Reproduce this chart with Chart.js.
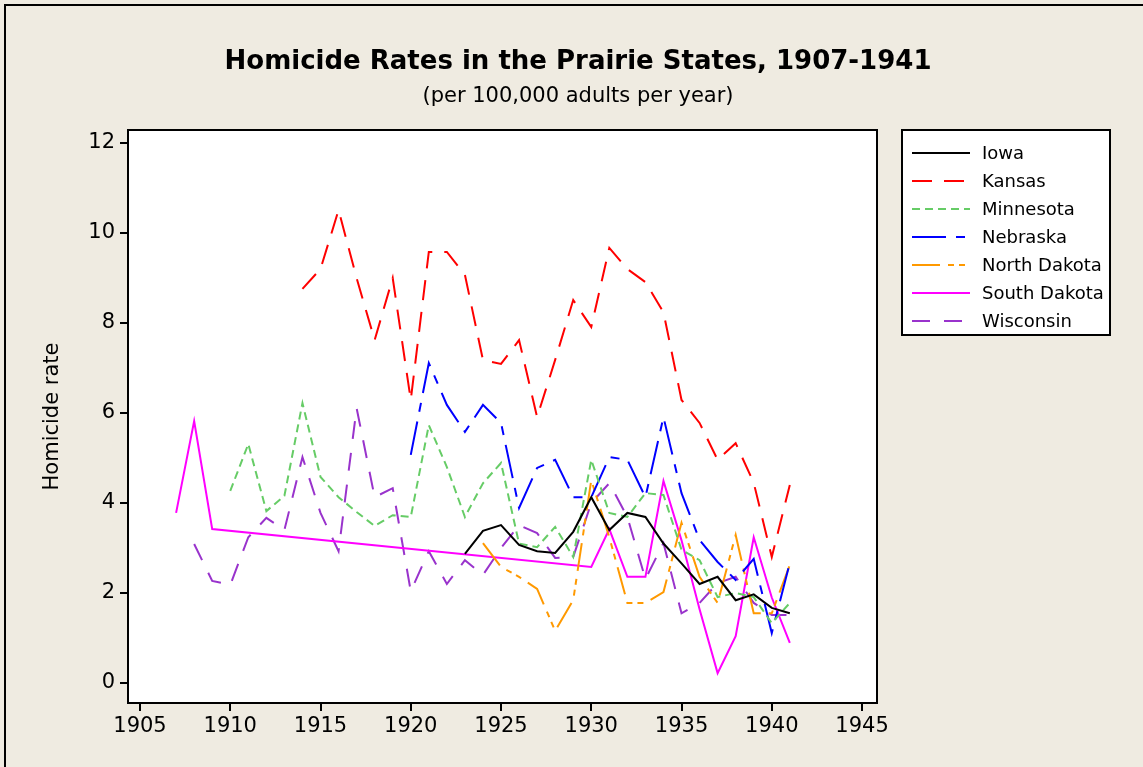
<!DOCTYPE html>
<html>
<head>
<meta charset="utf-8">
<script src="https://cdn.jsdelivr.net/npm/chart.js@4.4.1/dist/chart.umd.min.js"></script>
<style>
html,body{margin:0;padding:0;background:#EFEBE1;}
#wrap{width:1143px;height:767px;position:relative;}
</style>
</head>
<body>
<div id="wrap"><canvas id="c" width="1143" height="767"></canvas></div>
<script>
const years = [1907,1908,1909,1910,1911,1912,1913,1914,1915,1916,1917,1918,1919,1920,1921,1922,1923,1924,1925,1926,1927,1928,1929,1930,1931,1932,1933,1934,1935,1936,1937,1938,1939,1940,1941];

const iowa = [null,null,null,null,null,null,null,null,null,null,null,null,null,null,null,null,
  2.87,3.38,3.51,3.07,2.93,2.89,3.36,4.13,3.40,3.78,3.69,3.10,2.66,2.20,2.36,1.84,1.97,1.67,1.55];
const kansas = [null,null,null,null,null,null,null,8.76,9.20,10.51,9.00,7.62,9.00,6.29,9.58,9.58,
  9.07,7.18,7.09,7.62,5.91,7.18,8.51,7.91,9.67,9.20,8.91,8.24,6.29,5.78,4.96,5.33,4.45,2.80,4.40];
const minnesota = [null,null,null,4.27,5.31,3.82,4.16,6.22,4.58,4.13,3.80,3.49,3.73,3.69,5.73,4.80,
  3.69,4.44,4.89,3.10,3.02,3.47,2.80,4.96,3.78,3.69,4.22,4.18,2.96,2.73,1.91,2.00,1.91,1.33,1.78];
const nebraska = [null,null,null,null,null,null,null,null,null,null,null,null,null,5.07,7.11,6.18,
  5.58,6.18,5.78,3.89,4.78,4.96,4.13,4.13,5.02,4.96,4.13,5.91,4.22,3.18,2.69,2.29,2.76,1.11,2.67];
const northDakota = [null,null,null,null,null,null,null,null,null,null,null,null,null,null,null,null,
  null,3.11,2.58,2.36,2.09,1.16,1.84,4.51,3.24,1.78,1.78,2.02,3.56,2.36,1.78,3.29,1.55,1.55,2.62];
const southDakota = [3.78,5.82,3.42,null,null,null,null,null,null,null,null,null,null,null,null,null,
  null,null,null,null,null,null,null,2.58,3.42,2.36,2.36,4.49,3.17,1.64,0.22,1.04,3.24,1.90,0.89];
const wisconsin = [null,3.09,2.27,2.18,3.24,3.67,3.40,5.02,3.78,2.93,6.11,4.13,4.33,2.04,2.93,2.20,
  2.73,2.40,3.00,3.51,3.33,2.78,2.80,4.00,4.44,3.69,2.31,3.11,1.55,1.78,2.22,2.36,1.78,1.51,1.51];

const seriesNames = ["Iowa","Kansas","Minnesota","Nebraska","North Dakota","South Dakota","Wisconsin"];
const xTicks = [1905,1910,1915,1920,1925,1930,1935,1940,1945];
const yTicks = [0,2,4,6,8,10,12];
const titleText = "Homicide Rates in the Prairie States, 1907-1941";
const subtitleText = "(per 100,000 adults per year)";
const yAxisTitle = "Homicide rate";

const seriesValues = [iowa,kansas,minnesota,nebraska,northDakota,southDakota,wisconsin];
const styles = [
  {color:"#000000", dash:[]},
  {color:"#FF0000", dash:[20,12]},
  {color:"#66CC66", dash:[8,5]},
  {color:"#0000FF", dash:[34,10,9,10]},
  {color:"#FF9900", dash:[28,8,6,5,6,8]},
  {color:"#FF00FF", dash:[]},
  {color:"#9933CC", dash:[18,14]}
];

const datasets = seriesNames.map((name,i)=>({
  label:name,
  data: years.map((yr,j)=>({x:yr, y:seriesValues[i][j]})),
  borderColor: styles[i].color,
  backgroundColor: styles[i].color,
  borderDash: styles[i].dash,
  borderWidth: 2,
  pointRadius: 0,
  tension: 0,
  spanGaps: true,
  fill: false
}));

const FONT = "'DejaVu Sans', Tahoma, sans-serif";

const decor = {
  id:'decor',
  beforeDraw(chart){
    const ctx = chart.ctx, a = chart.chartArea;
    ctx.save();
    ctx.fillStyle = "#EFEBE1";
    ctx.fillRect(0,0,chart.width,chart.height);
    ctx.fillStyle = "#000";
    ctx.fillRect(4,4,chart.width-4,2);
    ctx.fillRect(4,4,2,chart.height-4);
    ctx.fillStyle = "#FFFFFF";
    ctx.fillRect(a.left,a.top,a.right-a.left,a.bottom-a.top);
    ctx.restore();
  },
  afterDraw(chart){
    const ctx = chart.ctx, a = chart.chartArea;
    ctx.save();
    ctx.strokeStyle = "#000";
    ctx.lineWidth = 2;
    ctx.strokeRect(a.left,a.top,a.right-a.left,a.bottom-a.top);
    // title
    ctx.fillStyle = "#000";
    ctx.textAlign = "center";
    ctx.textBaseline = "middle";
    ctx.font = "bold 26px " + FONT;
    ctx.fillText(titleText, 578, 62);
    ctx.font = "21px " + FONT;
    ctx.fillText(subtitleText, 578, 97);
    // legend
    const lx = 902, ly = 130, lw = 208, lh = 205;
    ctx.fillStyle = "#FFFFFF";
    ctx.fillRect(lx,ly,lw,lh);
    ctx.strokeStyle = "#000";
    ctx.lineWidth = 2;
    ctx.strokeRect(lx,ly,lw,lh);
    ctx.font = "18px " + FONT;
    ctx.textAlign = "left";
    chart.data.datasets.forEach((ds,i)=>{
      const yy = 153 + i*28;
      ctx.strokeStyle = ds.borderColor;
      ctx.lineWidth = 2;
      ctx.setLineDash(ds.borderDash);
      ctx.beginPath();
      ctx.moveTo(912,yy);
      ctx.lineTo(970,yy);
      ctx.stroke();
      ctx.setLineDash([]);
      ctx.fillStyle = "#000";
      ctx.fillText(ds.label, 982, yy+1);
    });
    ctx.restore();
  }
};

new Chart(document.getElementById('c'), {
  type:'line',
  data:{datasets},
  options:{
    responsive:false,
    animation:false,
    devicePixelRatio:1,
    layout:{padding:{top:130,right:266,left:0,bottom:0}},
    plugins:{legend:{display:false}, title:{display:false}, tooltip:{enabled:false}},
    scales:{
      x:{
        type:'linear',
        min:1904.335, max:1945.83,
        afterBuildTicks(s){ s.ticks = xTicks.map(v=>({value:v})); },
        afterFit(s){ s.height = 64; },
        grid:{drawOnChartArea:false, drawTicks:true, tickLength:8, color:"#000", lineWidth:2},
        border:{display:false},
        ticks:{color:"#000", font:{family:FONT, size:21}, padding:3, maxRotation:0, autoSkip:false,
          callback:(v)=>String(v)}
      },
      y:{
        type:'linear',
        min:-0.444, max:12.289,
        afterBuildTicks(s){ s.ticks = yTicks.map(v=>({value:v})); },
        afterFit(s){ s.width = 128; },
        grid:{drawOnChartArea:false, drawTicks:true, tickLength:8, color:"#000", lineWidth:2},
        border:{display:false},
        ticks:{color:"#000", font:{family:FONT, size:21}, padding:5, autoSkip:false,
          callback:(v)=>String(v)},
        title:{display:true, text:yAxisTitle, color:"#000", font:{family:FONT, size:21}, padding:{top:40,bottom:0}}
      }
    }
  },
  plugins:[decor]
});
</script>
</body>
</html>
